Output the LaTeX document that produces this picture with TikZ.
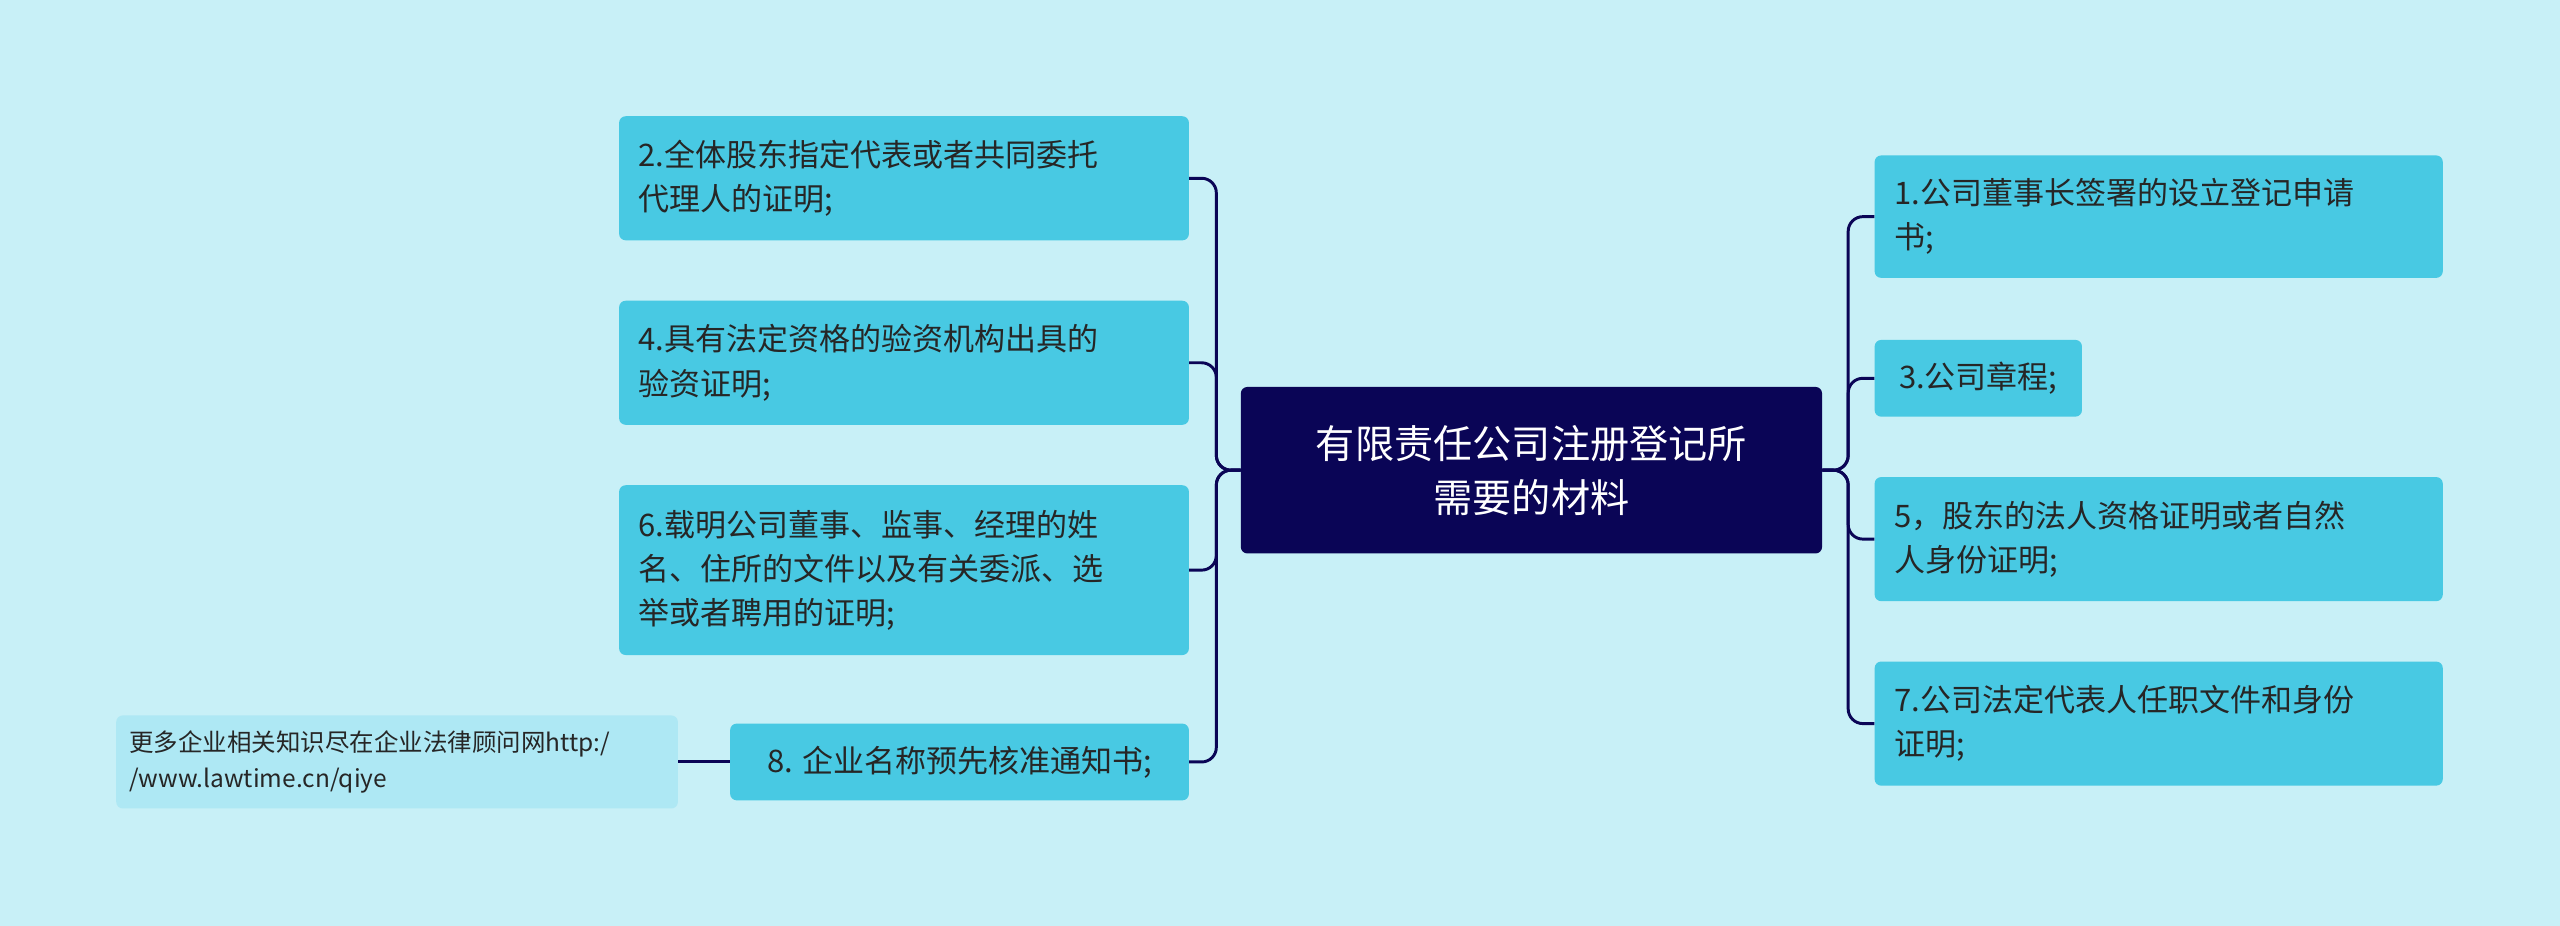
\documentclass[tikz,border=0pt]{standalone}
\usepackage{fontspec}
\setmainfont{Noto Sans CJK SC}
\definecolor{bg}{HTML}{C8F0F7}
\definecolor{nb}{HTML}{48C9E3}
\definecolor{lb}{HTML}{AEE8F4}
\definecolor{navy}{HTML}{0A0556}
\begin{document}
\begin{tikzpicture}[x=1pt,y=-1pt,
  box/.style={fill=nb,rounded corners=4pt,anchor=north west,align=left,inner xsep=12pt,text=black!85,font=\fontsize{19}{27}\selectfont},
  conn/.style={draw=navy,line width=1.8pt,rounded corners=9pt}]
\fill[bg] (0,0) rectangle (1568,567);
\useasboundingbox (0,0) rectangle (1568,567);
\node[fill=navy,rounded corners=4pt,minimum width=356pt,minimum height=102pt,text=white,align=center,font=\fontsize{24}{33}\selectfont] (c) at (938,288) {有限责任公司注册登记所\\需要的材料};
\node[box,minimum width=349pt,minimum height=76pt,text width=325pt] (n2) at (379,71) {2.全体股东指定代表或者共同委托\\代理人的证明;};
\node[box,minimum width=349pt,minimum height=76pt,text width=325pt] (n4) at (379,184) {4.具有法定资格的验资机构出具的\\验资证明;};
\node[box,minimum width=349pt,minimum height=104pt,text width=325pt] (n6) at (379,297) {6.载明公司董事、监事、经理的姓\\名、住所的文件以及有关委派、选\\举或者聘用的证明;};
\node[box,minimum width=281pt,minimum height=47pt] (n8) at (447,443) {8. 企业名称预先核准通知书;};
\node[box,fill=lb,minimum width=344pt,minimum height=57pt,text width=328pt,inner xsep=8pt,font=\fontsize{15}{22}\selectfont] (f) at (71,438) {更多企业相关知识尽在企业法律顾问网http:/\\/www.lawtime.cn/qiye};
\node[box,minimum width=348pt,minimum height=75pt,text width=324pt] (n1) at (1148,95) {1.公司董事长签署的设立登记申请\\书;};
\node[box,minimum width=127pt,minimum height=47pt] (n3) at (1148,208) {3.公司章程;};
\node[box,minimum width=348pt,minimum height=76pt,text width=324pt] (n5) at (1148,292) {5，股东的法人资格证明或者自然\\人身份证明;};
\node[box,minimum width=348pt,minimum height=76pt,text width=324pt] (n7) at (1148,405) {7.公司法定代表人任职文件和身份\\证明;};
\coordinate (tl) at (745,288);
\coordinate (tr) at (1132,288);
\foreach \n in {n2,n4,n6,n8} \draw[conn] (c.west) -- (tl) |- (\n.east);
\foreach \n in {n1,n3,n5,n7} \draw[conn] (c.east) -- (tr) |- (\n.west);
\draw[conn] (n8.west) -- (f.east);
\end{tikzpicture}
\end{document}
